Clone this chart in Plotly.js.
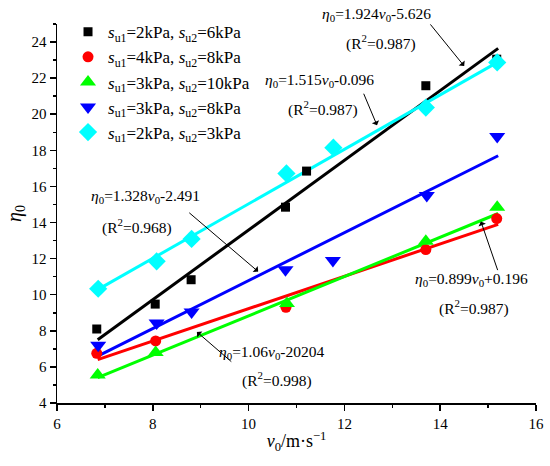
<!DOCTYPE html>
<html>
<head>
<meta charset="utf-8">
<script src="https://cdn.plot.ly/plotly-3.0.1.min.js"></script>
<style>html,body{margin:0;padding:0;background:#fff}#chart{width:550px;height:466px}</style>
</head>
<body>
<div id="chart"></div>
<script>
// ---- data ----
const seriesNames = [
  '<i>s</i><sub>u1</sub>=2kPa, <i>s</i><sub>u2</sub>=6kPa',
  '<i>s</i><sub>u1</sub>=4kPa, <i>s</i><sub>u2</sub>=8kPa',
  '<i>s</i><sub>u1</sub>=3kPa, <i>s</i><sub>u2</sub>=10kPa',
  '<i>s</i><sub>u1</sub>=3kPa, <i>s</i><sub>u2</sub>=8kPa',
  '<i>s</i><sub>u1</sub>=2kPa, <i>s</i><sub>u2</sub>=3kPa'
];
const blackX = [6.83, 8.05, 8.80, 10.77, 11.21, 13.70, 15.18];
const blackY = [8.10, 9.48, 10.83, 14.85, 16.85, 21.58, 23.05];
const redX = [6.83, 8.06, 10.78, 13.70, 15.18];
const redY = [6.75, 7.44, 9.30, 12.50, 14.22];
const greenX = [6.85, 8.06, 10.80, 13.70, 15.19];
const greenY = [5.55, 6.80, 9.52, 12.96, 14.85];
const blueX = [6.86, 8.08, 8.81, 10.77, 11.76, 13.72, 15.19];
const blueY = [7.20, 8.43, 9.04, 11.39, 11.89, 15.50, 18.76];
const cyanX = [6.86, 8.08, 8.81, 10.79, 11.77, 13.70, 15.19];
const cyanY = [10.33, 11.85, 13.09, 16.72, 18.15, 20.37, 22.87];
// fitted line end points
const fitX = [6.85, 15.21];
const blackFitY = [7.50, 23.65];
const redFitY = [6.40, 13.90];
const greenFitY = [5.40, 14.50];
const blueFitY = [6.60, 17.70];
const cyanFitY = [10.28, 22.90];
// annotation texts
const eqTexts = [
  '<i>η</i><sub>0</sub>=1.924<i>v</i><sub>0</sub>-5.626',
  '<i>η</i><sub>0</sub>=1.515<i>v</i><sub>0</sub>-0.096',
  '<i>η</i><sub>0</sub>=1.328<i>v</i><sub>0</sub>-2.491',
  '<i>η</i><sub>0</sub>=1.06<i>v</i><sub>0</sub>-20204',
  '<i>η</i><sub>0</sub>=0.899<i>v</i><sub>0</sub>+0.196'
];
const r2Texts = ['(R<sup>2</sup>=0.987)', '(R<sup>2</sup>=0.987)', '(R<sup>2</sup>=0.968)', '(R<sup>2</sup>=0.998)', '(R<sup>2</sup>=0.987)'];
const xTickVals = [6, 8, 10, 12, 14, 16];
const yTickVals = [4, 6, 8, 10, 12, 14, 16, 18, 20, 22, 24];

const FONT = 'Liberation Serif, DejaVu Serif, serif';
const colors = ['#000000', '#ff0000', '#00ff00', '#0000ff', '#00ffff'];

function fit(y, c) {
  return {x: fitX, y: y, mode: 'lines', line: {color: c, width: 3}, showlegend: false, hoverinfo: 'skip'};
}
function pts(x, y, i, sym, size) {
  return {x: x, y: y, mode: 'markers', name: seriesNames[i],
    marker: {symbol: sym, size: size, color: colors[i], line: {width: 0}}};
}
const traces = [
  fit(blackFitY, colors[0]), fit(cyanFitY, colors[4]), fit(blueFitY, colors[3]),
  fit(redFitY, colors[1]), fit(greenFitY, colors[2]),
  pts(blackX, blackY, 0, 'square', 9),
  pts(redX, redY, 1, 'circle', 11),
  pts(greenX, greenY, 2, 'triangle-up', 14),
  pts(blueX, blueY, 3, 'triangle-down', 14),
  pts(cyanX, cyanY, 4, 'diamond', 14)
];

// label positions (x in data units, y in paper units) and arrows (data units)
const eqPos = [[12.68, 1.024], [11.49, 0.850], [7.84, 0.546], [10.47, 0.132], [14.66, 0.325]];
const r2Pos = [[12.76, 0.950], [11.55, 0.776], [7.67, 0.467], [10.59, 0.061], [14.71, 0.251]];
const arrows = [
  [14.50, 22.67, 13.77, 25.06],
  [12.68, 19.39, 12.39, 21.22],
  [10.20, 11.28, 8.73, 14.61],
  [8.92, 7.94, 9.67, 6.22],
  [14.85, 14.06, 15.21, 11.28]
];
const annotations = [];
for (let i = 0; i < 5; i++) {
  annotations.push({x: eqPos[i][0], y: eqPos[i][1], xref: 'x', yref: 'paper', xanchor: 'center', yanchor: 'middle',
    text: eqTexts[i], showarrow: false, font: {family: FONT, size: 15.5, color: '#000'}});
  annotations.push({x: r2Pos[i][0], y: r2Pos[i][1], xref: 'x', yref: 'paper', xanchor: 'center', yanchor: 'middle',
    text: r2Texts[i], showarrow: false, font: {family: FONT, size: 15.5, color: '#000'}});
  annotations.push({x: arrows[i][0], y: arrows[i][1], ax: arrows[i][2], ay: arrows[i][3], xref: 'x', yref: 'y',
    axref: 'x', ayref: 'y', text: '', showarrow: true, arrowhead: 1, arrowsize: 1.3, arrowwidth: 1, arrowcolor: '#000'});
}

const layout = {
  width: 550, height: 466,
  margin: {l: 57, r: 14, t: 24, b: 63},
  paper_bgcolor: '#fff', plot_bgcolor: '#fff',
  font: {family: FONT, size: 15, color: '#000'},
  showlegend: true,
  legend: {x: 0.023, y: 1.026, xanchor: 'left', yanchor: 'top', bgcolor: 'rgba(0,0,0,0)',
    font: {family: FONT, size: 17, color: '#000'}, tracegroupgap: 0},
  xaxis: {range: [6, 16], tickvals: xTickVals, showgrid: false, zeroline: false, showline: true,
    linecolor: '#000', linewidth: 1.5, ticks: 'outside', ticklen: 6, tickwidth: 1.5, tickcolor: '#000',
    minor: {ticks: 'outside', ticklen: 3, dtick: 1, tick0: 6, tickwidth: 1.5, tickcolor: '#000'},
    tickfont: {family: FONT, size: 15},
    title: {text: '<i>v</i><sub>0</sub>/m·s<sup>−1</sup>', font: {family: FONT, size: 18}, standoff: 4}},
  yaxis: {range: [4, 25], tickvals: yTickVals, showgrid: false, zeroline: false, showline: true,
    linecolor: '#000', linewidth: 1.5, ticks: 'outside', ticklen: 6, tickwidth: 1.5, tickcolor: '#000',
    minor: {ticks: 'outside', ticklen: 3, dtick: 1, tick0: 4, tickwidth: 1.5, tickcolor: '#000'},
    tickfont: {family: FONT, size: 15},
    title: {text: '<i>η</i><sub>0</sub>', font: {family: FONT, size: 20}, standoff: 4}},
  annotations: annotations
};
Plotly.newPlot('chart', traces, layout, {displayModeBar: false, staticPlot: true});
</script>
</body>
</html>
